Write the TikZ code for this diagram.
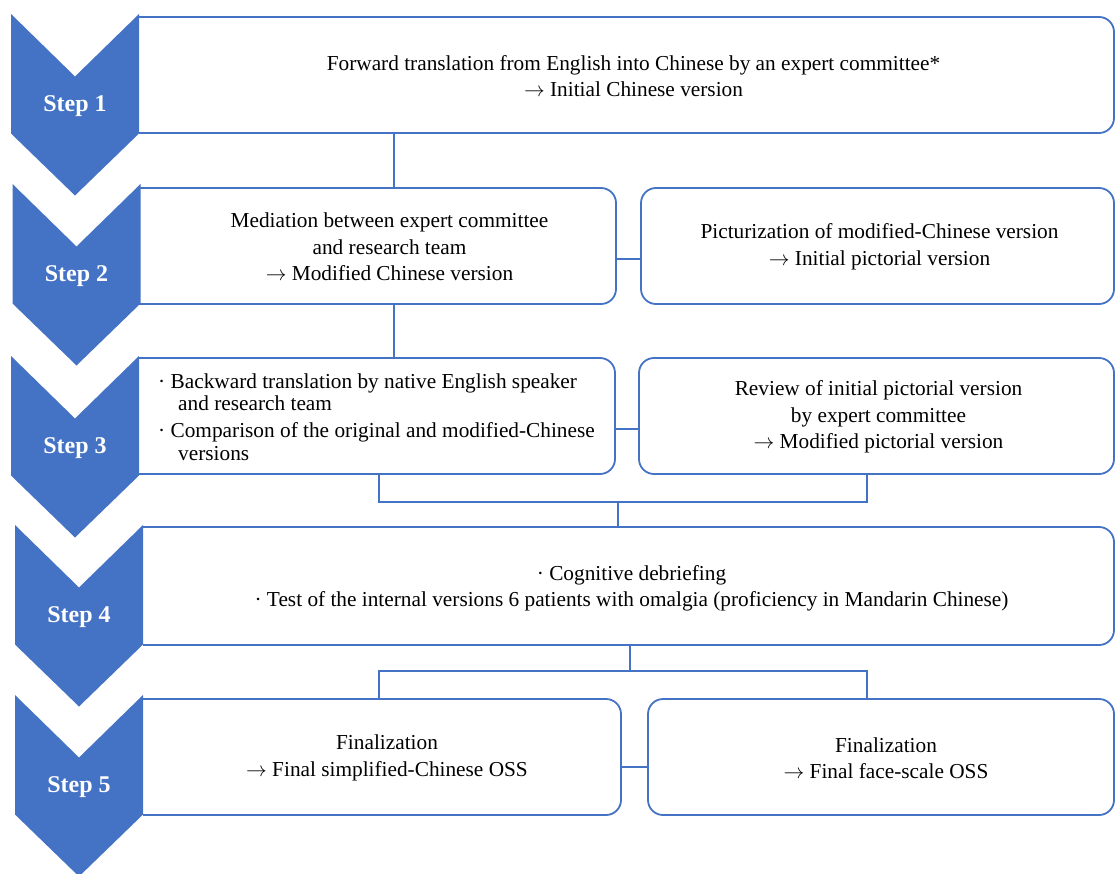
\documentclass[tikz,border=0pt]{standalone}
\usepackage{fontspec}
\setmainfont{Liberation Serif}
\definecolor{officeblue}{HTML}{4472C4}
\newcommand\arr{$\rightarrow$}
\newcommand\stepchev[4]{%
  \fill[officeblue] (#1,#2) -- ++(64,62.5) -- ++(64,-62.5) -- ++(0,119.5) -- ++(-64,62) -- ++(-64,-62) -- cycle;
  \node[steplabel] (#3) at (#1+64,#2+92.5) {#4};}
\begin{document}
\begin{tikzpicture}[x=1pt,y=-1pt,
  line/.style={draw=officeblue,line width=1.8pt},
  boxnode/.style={minimum height=116pt,inner sep=0pt,outer sep=0pt},
  boxtext/.style={inner sep=0pt,align=center,font=\fontsize{21.3}{26.5}\selectfont},
  roundbox/.style={boxnode,line,rounded corners=15pt},
  openbox/.style={line,rounded corners=15pt},
  steplabel/.style={text=white,font=\fontsize{24}{28}\selectfont\bfseries}]
\useasboundingbox (0,0) rectangle (1115,874);

% column coordinates
\coordinate (xa) at (394,0);
\coordinate (xb) at (379,0);
\coordinate (xc) at (867,0);
\coordinate (j1) at (618,502);
\coordinate (j2) at (630,671);

% boxes
\node[boxnode,minimum width=975pt] (b1) at (626.5,75) {};
\draw[openbox] (b1.north west) -- (b1.north east) -- (b1.south east) -- (b1.south west);
\node[boxtext] (t1) at ([xshift=7pt,yshift=-1pt]b1.center)
  {Forward translation from English into Chinese by an expert committee*\\\arr\ Initial Chinese version};

\node[boxnode,minimum width=477pt] (b2l) at (377.5,246) {};
\draw[openbox] (b2l.north west) -- (b2l.north east) -- (b2l.south east) -- (b2l.south west);
\node[boxtext] (t2l) at ([xshift=12pt,yshift=-1pt]b2l.center)
  {Mediation between expert committee\\and research team\\\arr\ Modified Chinese version};

\node[roundbox,minimum width=473pt] (b2r) at (877.5,246) {};
\node[boxtext] (t2r) at ([xshift=2pt,yshift=-1pt]b2r.center)
  {Picturization of modified-Chinese version\\\arr\ Initial pictorial version};

\node[boxnode,minimum width=477pt] (b3l) at (376.5,416) {};
\draw[openbox] (b3l.north west) -- (b3l.north east) -- (b3l.south east) -- (b3l.south west);
\node[boxtext,align=left,font=\fontsize{21.3}{22.5}\selectfont] (t3l) at ([yshift=-1pt]b3l.center)
  {· Backward translation by native English speaker\\\hspace*{20pt}and research team\\[4.5pt]
   · Comparison of the original and modified-Chinese\\\hspace*{20pt}versions};

\node[roundbox,minimum width=475pt] (b3r) at (876.5,416) {};
\node[boxtext] (t3r) at ([xshift=2pt,yshift=-1pt]b3r.center)
  {Review of initial pictorial version\\by expert committee\\\arr\ Modified pictorial version};

\node[boxnode,minimum width=971pt,minimum height=118pt] (b4) at (628.5,586) {};
\draw[openbox] (b4.north west) -- (b4.north east) -- (b4.south east) -- (b4.south west);
\node[boxtext] (t4) at ([xshift=3pt,yshift=-2.5pt]b4.center)
  {· Cognitive debriefing\\· Test of the internal versions 6 patients with omalgia (proficiency in Mandarin Chinese)};

\node[boxnode,minimum width=478pt] (b5l) at (382,757) {};
\draw[openbox] (b5l.north west) -- (b5l.north east) -- (b5l.south east) -- (b5l.south west);
\node[boxtext] (t5l) at ([xshift=5pt,yshift=-1pt]b5l.center)
  {Finalization\\\arr\ Final simplified-Chinese OSS};

\node[roundbox,minimum width=466pt] (b5r) at (881,757) {};
\node[boxtext] (t5r) at ([xshift=5pt,yshift=-1pt]b5r.center)
  {Finalization\\\arr\ Final face-scale OSS};

% connectors
\draw[line] (b1.south -| xa) -- (b2l.north -| xa);
\draw[line] ([yshift=-13pt]b2l.east) -- ([yshift=-13pt]b2r.west);
\draw[line] (b2l.south -| xa) -- (b3l.north -| xa);
\draw[line] ([yshift=-13pt]b3l.east) -- ([yshift=-13pt]b3r.west);
\draw[line] (b3l.south -| xb) |- (j1) -| (b3r.south -| xc);
\draw[line] (j1) -- (b4.north -| j1);
\draw[line] (b4.south -| j2) -- (j2);
\draw[line] (b5l.north -| xb) |- (j2) -| (b5r.north -| xc);
\draw[line] ([yshift=-10pt]b5l.east) -- ([yshift=-10pt]b5r.west);

% chevrons
\stepchev{11}{14}{s1}{Step 1}
\stepchev{12.5}{184}{s2}{Step 2}
\stepchev{11}{356}{s3}{Step 3}
\stepchev{15}{525}{s4}{Step 4}
\stepchev{15}{695}{s5}{Step 5}
\end{tikzpicture}
\end{document}
